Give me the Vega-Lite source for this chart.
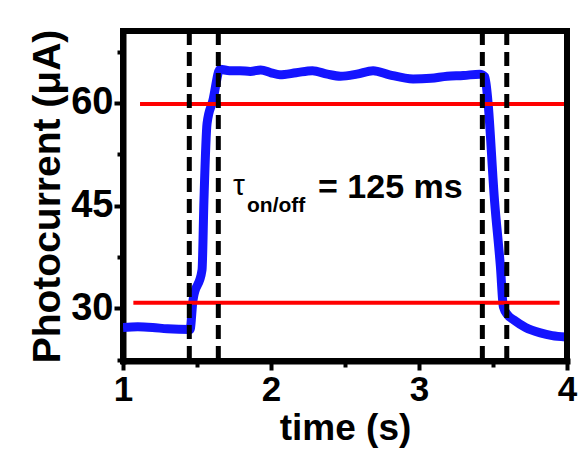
{
  "$schema": "https://vega.github.io/schema/vega-lite/v6.json",
  "width": 444,
  "height": 330,
  "autosize": {"type": "none"},
  "padding": {"left": 123, "top": 31, "right": 20, "bottom": 89},
  "background": "white",
  "config": {
    "view": {"stroke": "black", "strokeWidth": 6},
    "font": "Liberation Sans"
  },
  "datasets": {
    "curve": [
      {"time": 1.0, "current": 27.2},
      {"time": 1.1, "current": 27.3},
      {"time": 1.2, "current": 27.2},
      {"time": 1.3, "current": 27.0},
      {"time": 1.453, "current": 26.9},
      {"time": 1.473, "current": 31.2},
      {"time": 1.534, "current": 35.6},
      {"time": 1.547, "current": 45.8},
      {"time": 1.568, "current": 57.0},
      {"time": 1.608, "current": 60.4},
      {"time": 1.655, "current": 64.9},
      {"time": 1.72, "current": 64.7},
      {"time": 1.79, "current": 64.7},
      {"time": 1.86, "current": 64.6},
      {"time": 1.93, "current": 64.8},
      {"time": 2.0, "current": 64.4},
      {"time": 2.06, "current": 64.1},
      {"time": 2.17, "current": 64.4},
      {"time": 2.28, "current": 64.7},
      {"time": 2.38, "current": 64.2},
      {"time": 2.47, "current": 63.9},
      {"time": 2.58, "current": 64.2},
      {"time": 2.69, "current": 64.7},
      {"time": 2.8, "current": 64.1},
      {"time": 2.96, "current": 63.5},
      {"time": 3.08, "current": 63.6},
      {"time": 3.19, "current": 63.9},
      {"time": 3.3, "current": 64.0},
      {"time": 3.41, "current": 64.2},
      {"time": 3.445, "current": 63.8},
      {"time": 3.465, "current": 60.4},
      {"time": 3.51, "current": 45.8},
      {"time": 3.55, "current": 36.1},
      {"time": 3.57, "current": 30.2},
      {"time": 3.6, "current": 29.0},
      {"time": 3.64, "current": 28.3},
      {"time": 3.72, "current": 27.2},
      {"time": 3.82, "current": 26.4},
      {"time": 3.9, "current": 26.0},
      {"time": 3.99, "current": 25.8}
    ],
    "thresholds": [
      {"start": 1.115, "end": 3.99, "level": 59.85},
      {"start": 1.07, "end": 3.95, "level": 30.8}
    ],
    "markers": [
      {"time": 1.448},
      {"time": 1.644},
      {"time": 3.428},
      {"time": 3.593}
    ],
    "frame": [
      {"x1": 1, "x2": 4, "y1": 70.5, "y2": 70.5},
      {"x1": 4, "x2": 4, "y1": 22.3, "y2": 70.5}
    ],
    "tau": [{"time": 1.743, "current": 46.5, "label": "τ"}],
    "sub": [{"time": 1.838, "current": 44.0, "label": "on/off"}],
    "eq": [{"time": 2.318, "current": 46.1, "label": "= 125 ms"}]
  },
  "encoding": {
    "x": {
      "field": "time",
      "type": "quantitative",
      "scale": {"domain": [1, 4], "nice": false, "zero": false},
      "axis": {
        "title": "time (s)",
        "values": [1, 1.5, 2, 2.5, 3, 3.5, 4],
        "labelExpr": "datum.value % 1 === 0 ? format(datum.value, 'd') : ''",
        "grid": false,
        "domainColor": "black",
        "domainWidth": 6,
        "domainCap": "square",
        "tickColor": "black",
        "tickWidth": 4,
        "tickSize": {"condition": {"test": "datum.value % 1 === 0", "value": 9}, "value": 6},
        "labelFont": "Liberation Sans",
        "labelFontWeight": "bold",
        "labelFontSize": 35,
        "labelColor": "black",
        "labelPadding": 2,
        "labelFlush": false,
        "labelOverlap": false,
        "titleFont": "Liberation Sans",
        "titleFontWeight": "bold",
        "titleFontSize": 37,
        "titleColor": "black",
        "titlePadding": 3
      }
    },
    "y": {
      "field": "current",
      "type": "quantitative",
      "scale": {"domain": [22.3, 70.5], "nice": false, "zero": false},
      "axis": {
        "title": "Photocurrent (μA)",
        "values": [22.5, 30, 37.5, 45, 52.5, 60, 67.5],
        "labelExpr": "datum.value % 15 === 0 ? datum.label : ''",
        "grid": false,
        "domainColor": "black",
        "domainWidth": 6,
        "domainCap": "square",
        "tickColor": "black",
        "tickWidth": 4,
        "tickSize": {"condition": {"test": "datum.value % 15 === 0", "value": 9}, "value": 6},
        "labelFont": "Liberation Sans",
        "labelFontWeight": "bold",
        "labelFontSize": 38,
        "labelColor": "black",
        "labelPadding": 1,
        "labelFlush": false,
        "labelOverlap": false,
        "titleFont": "Liberation Sans",
        "titleFontWeight": "bold",
        "titleFontSize": 39,
        "titleColor": "black",
        "titlePadding": 3
      }
    }
  },
  "layer": [
    {
      "data": {"name": "curve"},
      "mark": {"type": "line", "color": "#1414ff", "strokeWidth": 9, "strokeJoin": "round", "strokeCap": "butt", "interpolate": "monotone", "clip": true}
    },
    {
      "data": {"name": "thresholds"},
      "mark": {"type": "rule", "color": "#ff0000", "strokeWidth": 4},
      "encoding": {
        "x": {"field": "start", "type": "quantitative"},
        "x2": {"field": "end"},
        "y": {"field": "level", "type": "quantitative"}
      }
    },
    {
      "data": {"name": "markers"},
      "mark": {"type": "rule", "color": "black", "strokeWidth": 5, "strokeDash": [14, 7]},
      "encoding": {
        "x": {"field": "time", "type": "quantitative"},
        "y": null
      }
    },
    {
      "data": {"name": "frame"},
      "mark": {"type": "rule", "color": "#000000", "strokeWidth": 6, "strokeCap": "square"},
      "encoding": {
        "x": {"field": "x1", "type": "quantitative"},
        "x2": {"field": "x2"},
        "y": {"field": "y1", "type": "quantitative"},
        "y2": {"field": "y2"}
      }
    },
    {
      "data": {"name": "tau"},
      "mark": {"type": "text", "align": "left", "baseline": "alphabetic", "fontSize": 30, "font": "Liberation Sans", "color": "black"},
      "encoding": {"text": {"field": "label"}}
    },
    {
      "data": {"name": "sub"},
      "mark": {"type": "text", "align": "left", "baseline": "alphabetic", "fontSize": 21, "fontWeight": "bold", "font": "Liberation Sans", "color": "black"},
      "encoding": {"text": {"field": "label"}}
    },
    {
      "data": {"name": "eq"},
      "mark": {"type": "text", "align": "left", "baseline": "alphabetic", "fontSize": 34, "fontWeight": "bold", "font": "Liberation Sans", "color": "black"},
      "encoding": {"text": {"field": "label"}}
    }
  ]
}
